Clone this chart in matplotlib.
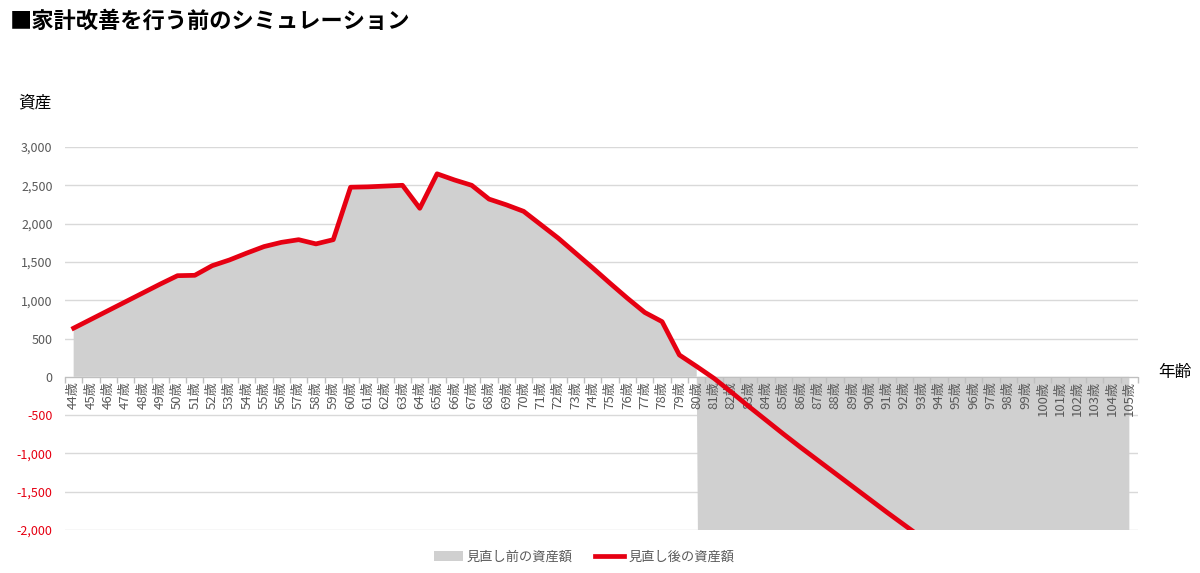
import matplotlib
matplotlib.use("Agg")
from matplotlib import pyplot as plt
from matplotlib.patches import Patch
from matplotlib.lines import Line2D
import numpy as np

plt.rcParams["font.family"] = ["Noto Sans CJK JP", "DejaVu Sans"]

# data (unit: 万円)
ages = list(range(44, 106))
age_labels = [str(a) + "歳" for a in ages]

# after revision (red line)
after_vals = [
    635, 750, 865, 980, 1095, 1210, 1320, 1325, 1450, 1525,
    1615, 1700, 1755, 1790, 1735, 1790, 2475, 2480, 2490, 2500,
    2200, 2650, 2570, 2500, 2320, 2245, 2160, 1985, 1810, 1615,
    1420, 1220, 1025, 840, 720, 285, 135, -20, -200, -385,
    -565, -745, -920, -1090, -1260, -1430, -1600, -1770, -1935, -2100,
    -2265, -2430, -2595, -2760, -2925, -3090, -3255, -3420, -3585, -3750,
    -3915, -4080,
]

# before revision (grey area), drops far below the axis after 80
before_vals = [
    635, 750, 865, 980, 1095, 1210, 1320, 1325, 1450, 1525,
    1615, 1700, 1755, 1790, 1735, 1790, 2475, 2480, 2490, 2500,
    2200, 2650, 2570, 2500, 2320, 2245, 2160, 1985, 1810, 1615,
    1420, 1220, 1025, 840, 720, 285, 135, -30000, -31000, -32000,
    -33000, -34000, -35000, -36000, -37000, -38000, -39000, -40000, -41000, -42000,
    -43000, -44000, -45000, -46000, -47000, -48000, -49000, -50000, -51000, -52000,
    -53000, -54000,
]

y_ticks = [3000, 2500, 2000, 1500, 1000, 500, 0, -500, -1000, -1500, -2000]

grey = "#d0d0d0"
red = "#e60012"
text_grey = "#595959"
grid_grey = "#d9d9d9"

fig = plt.figure(figsize=(12, 5.73), dpi=100)
W, H = 1200, 573
ax = fig.add_axes([65 / W, 1 - 530 / H, (1138 - 65) / W, (530 - 147) / H])

x = np.arange(len(ages))
# gridlines drawn under the area, tick labels stay above it
for v in y_ticks:
    ax.axhline(v, color=grid_grey, linewidth=1, zorder=0.1)
ax.fill_between(x, before_vals, 0, color=grey, linewidth=0, zorder=1)
ax.plot(x, after_vals, color=red, linewidth=3.4, zorder=3)

ax.set_xlim(-0.5, len(ages) - 0.5)
ax.set_ylim(-2000, 3000)

ax.set_yticks(y_ticks)
ax.set_yticklabels(["{:,}".format(v) for v in y_ticks])
for lbl, v in zip(ax.get_yticklabels(), y_ticks):
    lbl.set_color(red if v < 0 else text_grey)
ax.tick_params(axis="y", length=0, pad=9, labelsize=9)

ax.set_xticks(x)
ax.set_xticks(np.arange(-0.5, len(ages), 1.0), minor=True)
ax.set_xticklabels(age_labels)
ax.tick_params(axis="x", which="major", length=0, pad=3, labelsize=9.5,
               labelcolor=text_grey, labelrotation=90)
ax.tick_params(axis="x", which="minor", length=4, color="#bfbfbf", width=1)

for s in ["top", "right", "left"]:
    ax.spines[s].set_visible(False)
ax.spines["bottom"].set_position(("data", 0))
ax.spines["bottom"].set_color("#bfbfbf")

fig.text(10 / W, 1 - 21 / H, "■家計改善を行う前のシミュレーション",
         fontsize=16, fontweight="bold", va="center", ha="left")
fig.text(18 / W, 1 - 103 / H, "資産", fontsize=12, va="center", ha="left")
fig.text(1158 / W, 1 - 373 / H, "年齢", fontsize=12, va="center", ha="left")

handles = [
    Patch(facecolor=grey, edgecolor="none", label="見直し前の資産額"),
    Line2D([0], [0], color=red, linewidth=3.4, label="見直し後の資産額"),
]
leg = fig.legend(handles=handles, loc="center", bbox_to_anchor=(584 / W, 1 - 557 / H),
                 ncol=2, frameon=False, fontsize=9.5, handlelength=2.2,
                 handleheight=0.8, handletextpad=0.3, columnspacing=1.7)
for t in leg.get_texts():
    t.set_color(text_grey)

fig.savefig("out.png", dpi=100, facecolor="white")
